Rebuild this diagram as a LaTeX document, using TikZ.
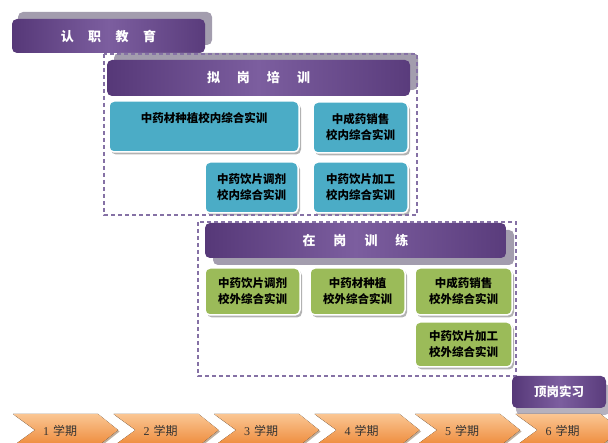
\documentclass[tikz,border=0pt]{standalone}
\usepackage{fontspec}
\setmainfont{Liberation Serif}
\newfontfamily\cjk{Noto Sans CJK SC}
\usetikzlibrary{shadows}
\definecolor{purpD}{HTML}{563878}
\definecolor{purpL}{HTML}{7C5E9F}
\definecolor{shadowP}{HTML}{A39DAE}
\definecolor{tealF}{HTML}{4BACC6}
\definecolor{greenF}{HTML}{9BBB59}
\definecolor{dashC}{HTML}{8571A5}
\definecolor{chevT}{HTML}{FAC693}
\definecolor{chevB}{HTML}{EE8A3A}
\definecolor{txtD}{HTML}{333333}
\begin{document}
\begin{tikzpicture}[x=1pt,y=-1pt,
  bar/.style={anchor=north west, inner sep=0pt, outer sep=0pt, rounded corners=5pt,
    left color=purpD, right color=purpD!90!purpL, middle color=purpL, text=white,
    font=\cjk\bfseries\fontsize{13}{15}\selectfont},
  barshadow/.style={fill=shadowP, rounded corners=5pt},
  box/.style={anchor=north west, inner sep=0pt, outer sep=0pt, rounded corners=5pt,
    draw=white, line width=1.5pt, align=center, text=black,
    drop shadow={shadow xshift=2pt, shadow yshift=-2.5pt, fill=black, opacity=0.3},
    font=\cjk\bfseries\fontsize{11.5}{16}\selectfont},
  tbox/.style={box, fill=tealF},
  gbox/.style={box, fill=greenF},
  dashbox/.style={draw=dashC, dash pattern=on 4pt off 3pt, line width=1.1pt},
  chev/.style={top color=chevT, bottom color=chevB,
    drop shadow={shadow xshift=1.5pt, shadow yshift=-1.5pt, fill=brown!60!black, opacity=0.45}},
  chevtext/.style={text=txtD, font=\fontsize{12}{14}\selectfont, inner sep=0pt}
]
\useasboundingbox (0,0) rectangle (608,443);

% ---- 认职教育 ----
\fill[barshadow] (18,12) rectangle (212,45);
\node[bar, minimum width=193pt, minimum height=34pt] (rz) at (12,19)
  {认\hspace{14.5pt}职\hspace{14.5pt}教\hspace{14.5pt}育};

% ---- 拟岗培训 group ----
\fill[barshadow] (114,53) rectangle (418,90);
\node[bar, minimum width=303pt, minimum height=36pt] (ng) at (107,60)
  {拟\hspace{17pt}岗\hspace{17pt}培\hspace{17pt}训};
\node[tbox, minimum width=190pt, minimum height=51pt, text depth=19pt] (t1) at (109,101)
  {中药材种植校内综合实训};
\node[tbox, minimum width=95pt, minimum height=51pt] (t2) at (313,102)
  {中成药销售\\校内综合实训};
\node[tbox, minimum width=93pt, minimum height=51pt] (t3) at (205,162)
  {中药饮片调剂\\校内综合实训};
\node[tbox, minimum width=95pt, minimum height=51pt] (t4) at (313,162)
  {中药饮片加工\\校内综合实训};
\draw[dashbox] (104,54) rectangle (417,215);

% ---- 在岗训练 group ----
\fill[barshadow] (213,230) rectangle (514,265);
\node[bar, minimum width=301pt, minimum height=35pt] (zg) at (205,223)
  {在\hspace{18pt}岗\hspace{18pt}训\hspace{18pt}练};
\node[gbox, minimum width=95pt, minimum height=47pt] (g1) at (205,268)
  {中药饮片调剂\\校外综合实训};
\node[gbox, minimum width=95pt, minimum height=47pt] (g2) at (310,268)
  {中药材种植\\校外综合实训};
\node[gbox, minimum width=97pt, minimum height=47pt] (g3) at (415,268)
  {中成药销售\\校外综合实训};
\node[gbox, minimum width=97pt, minimum height=45pt] (g4) at (415,322)
  {中药饮片加工\\校外综合实训};
\draw[dashbox] (198,222) rectangle (516,376);

% ---- 顶岗实习 ----
\fill[barshadow, opacity=0.8] (516,384) rectangle (610,415);
\node[bar, minimum width=94pt, minimum height=32pt, font=\cjk\bfseries\fontsize{12.5}{15}\selectfont] (dg) at (512,376)
  {顶岗实习};

% ---- semesters ----
\foreach \i in {1,...,6}{
  \pgfmathsetmacro{\xx}{13+100.5*(\i-1)}
  \fill[chev] (\xx,414) -- ++(85,0) -- ++(20,16) -- ++(-20,16) -- ++(-85,0) -- ++(22,-16) -- cycle;
  \node[chevtext] (s\i) at (\xx+47,431) {\i\hspace{4pt}{\cjk 学期}};
}
\end{tikzpicture}
\end{document}
